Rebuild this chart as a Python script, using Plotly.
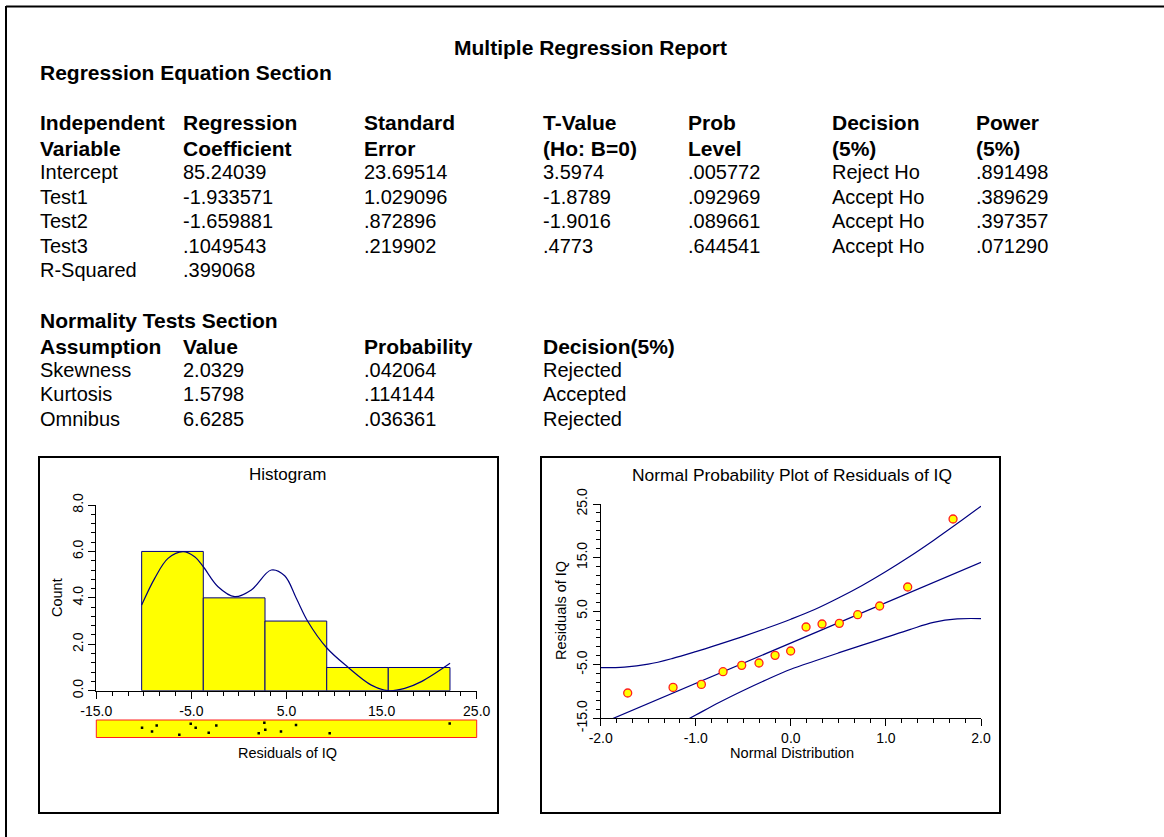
import plotly.graph_objects as go

# ---------------- data ----------------
report_title = "Multiple Regression Report"
section1_title = "Regression Equation Section"
section2_title = "Normality Tests Section"

reg_header_1 = ["Independent", "Regression", "Standard", "T-Value", "Prob", "Decision", "Power"]
reg_header_2 = ["Variable", "Coefficient", "Error", "(Ho: B=0)", "Level", "(5%)", "(5%)"]
variables = ["Intercept", "Test1", "Test2", "Test3"]
coefficients = ["85.24039", "-1.933571", "-1.659881", ".1049543"]
std_errors = ["23.69514", "1.029096", ".872896", ".219902"]
t_values = ["3.5974", "-1.8789", "-1.9016", ".4773"]
prob_levels = [".005772", ".092969", ".089661", ".644541"]
decisions = ["Reject Ho", "Accept Ho", "Accept Ho", "Accept Ho"]
powers = [".891498", ".389629", ".397357", ".071290"]
r_squared_label = "R-Squared"
r_squared = ".399068"

norm_header = ["Assumption", "Value", "Probability", "Decision(5%)"]
assumptions = ["Skewness", "Kurtosis", "Omnibus"]
norm_values = ["2.0329", "1.5798", "6.6285"]
norm_probs = [".042064", ".114144", ".036361"]
norm_decisions = ["Rejected", "Accepted", "Rejected"]

# residuals of IQ (sorted)
residuals = [-10.19, -9.14, -8.65, -6.27, -5.07, -4.55, -3.18, -2.38,
             2.08, 2.67, 2.77, 4.42, 6.00, 9.54, 22.16]
rug_jitter = [0.56, 0.33, 0.71, 0.13, 0.81, 0.56, 0.25, 0.71,
              0.21, 0.88, 0.44, 0.33, 0.73, 0.21, 0.83]

# histogram
bin_edges = [-10.23, -3.75, 2.74, 9.23, 15.70, 22.19]
counts = [6, 4, 3, 1, 1]
kde_x = [-10.23, -8.86, -7.46, -5.88, -4.66, -3.75, -2.20, -0.45, 1.30, 3.40,
         4.81, 6.03, 7.26, 9.22, 11.47, 13.92, 15.67, 17.43, 19.18, 22.20]
kde_y = [3.69, 4.84, 5.70, 5.99, 5.77, 5.34, 4.48, 4.05, 4.34, 5.20,
         4.95, 3.98, 2.97, 1.85, 1.01, 0.24, 0.00, 0.10, 0.39, 1.18]
hist_xticks = [-15, -5, 5, 15, 25]
hist_xticktext = ["-15.0", "-5.0", "5.0", "15.0", "25.0"]
hist_yticks = [0, 2, 4, 6, 8]
hist_yticktext = ["0.0", "2.0", "4.0", "6.0", "8.0"]

# normal probability plot
normal_scores = [-1.716, -1.239, -0.941, -0.713, -0.517, -0.335, -0.166, -0.002,
                 0.160, 0.328, 0.510, 0.703, 0.934, 1.229, 1.706]
npp_residuals = [-10.28, -9.23, -8.67, -6.30, -5.12, -4.68, -3.25, -2.44,
                 2.04, 2.60, 2.72, 4.34, 5.96, 9.51, 22.20]
fit_intercept = -0.95
fit_slope = 7.53
band_x = [-2.0, -1.75, -1.5, -1.25, -1.0, -0.75, -0.5, -0.25, 0.0,
          0.25, 0.5, 0.75, 1.0, 1.25, 1.5, 1.75, 2.0]
band_upper = [-5.55, -5.45, -4.9, -3.85, -2.55, -1.15, 0.3, 1.85, 3.5,
              5.3, 7.45, 9.8, 12.4, 15.2, 18.2, 21.35, 24.6]
band_lower = [-26.6, -22.9, -19.7, -16.8, -14.4, -12.0, -9.8, -7.75, -5.85,
              -4.3, -2.8, -1.35, 0.1, 1.55, 2.9, 3.55, 3.6]
npp_xticks = [-2, -1, 0, 1, 2]
npp_xticktext = ["-2.0", "-1.0", "0.0", "1.0", "2.0"]
npp_yticks = [-15, -5, 5, 15, 25]
npp_yticktext = ["-15.0", "-5.0", "5.0", "15.0", "25.0"]

# ---------------- helpers ----------------
W, H = 1164, 837
FONT = "Liberation Sans, Arial, Helvetica, sans-serif"
NAVY = "#000080"


def pxx(x):
    return x / W


def pxy(y):
    return 1 - y / H


fig = go.Figure()

# ---------------- histogram ----------------
centers = [(a + b) / 2 for a, b in zip(bin_edges[:-1], bin_edges[1:])]
widths = [b - a for a, b in zip(bin_edges[:-1], bin_edges[1:])]
fig.add_trace(go.Bar(x=centers, y=counts, width=widths,
                     marker=dict(color="#FFFF00", line=dict(color=NAVY, width=1)),
                     xaxis="x", yaxis="y", showlegend=False, hoverinfo="skip"))
fig.add_trace(go.Scatter(x=kde_x, y=kde_y, mode="lines",
                         line=dict(color=NAVY, width=1.2, shape="spline", smoothing=1.0),
                         xaxis="x", yaxis="y", showlegend=False, hoverinfo="skip"))

# rug strip
fig.add_trace(go.Scatter(x=residuals, y=rug_jitter, mode="markers",
                         marker=dict(symbol="square", size=2.5, color="black"),
                         xaxis="x3", yaxis="y3", showlegend=False, hoverinfo="skip"))

# ---------------- normal probability plot ----------------
fig.add_trace(go.Scatter(x=band_x, y=band_upper, mode="lines",
                         line=dict(color=NAVY, width=1.2, shape="spline"),
                         xaxis="x2", yaxis="y2", showlegend=False, hoverinfo="skip"))
fig.add_trace(go.Scatter(x=band_x, y=band_lower, mode="lines",
                         line=dict(color=NAVY, width=1.2, shape="spline"),
                         xaxis="x2", yaxis="y2", showlegend=False, hoverinfo="skip"))
fit_x = [npp_xticks[0], npp_xticks[-1]]
fit_y = [fit_intercept + fit_slope * v for v in fit_x]
fig.add_trace(go.Scatter(x=fit_x, y=fit_y, mode="lines",
                         line=dict(color=NAVY, width=1.2),
                         xaxis="x2", yaxis="y2", showlegend=False, hoverinfo="skip"))
fig.add_trace(go.Scatter(x=normal_scores, y=npp_residuals, mode="markers",
                         marker=dict(size=8, color="#FFFF00", line=dict(color="#FF2020", width=1.3)),
                         xaxis="x2", yaxis="y2", showlegend=False, hoverinfo="skip"))

axis_common = dict(showline=True, linecolor="black", linewidth=1, ticks="outside",
                   ticklen=7, tickcolor="black", tickwidth=1, showgrid=False,
                   zeroline=False, tickmode="array", automargin=False,
                   tickfont=dict(family=FONT, size=14, color="black"), fixedrange=True)

fig.update_layout(
    template="none",
    width=W, height=H, autosize=False,
    margin=dict(l=0, r=0, t=0, b=0, pad=0, autoexpand=False),
    paper_bgcolor="white", plot_bgcolor="white",
    font=dict(family=FONT, color="black"),
    showlegend=False,
    xaxis=dict(domain=[pxx(96.3), pxx(476.7)], range=[-15, 25], anchor="y",
               tickvals=hist_xticks, ticktext=hist_xticktext,
               minor=dict(tickmode="linear", tick0=-15, dtick=10 / 6, ticks="outside",
                          ticklen=4, tickcolor="black"),
               **axis_common),
    yaxis=dict(domain=[pxy(690.7), pxy(505)], range=[0, 8], anchor="x",
               tickvals=hist_yticks, ticktext=hist_yticktext, tickangle=-90,
               minor=dict(tickmode="linear", tick0=0, dtick=0.4, ticks="outside",
                          ticklen=4, tickcolor="black"),
               **axis_common),
    xaxis3=dict(domain=[pxx(96.3), pxx(476.7)], range=[-15, 25], anchor="y3",
                visible=False, fixedrange=True, automargin=False),
    yaxis3=dict(domain=[pxy(737.5), pxy(720)], range=[-0.05, 1.05], anchor="x3",
                visible=False, fixedrange=True, automargin=False),
    xaxis2=dict(domain=[pxx(600.7), pxx(981)], range=[-2, 2], anchor="y2",
                tickvals=npp_xticks, ticktext=npp_xticktext,
                minor=dict(tickmode="linear", tick0=-2, dtick=1 / 6, ticks="outside",
                           ticklen=4, tickcolor="black"),
                **axis_common),
    yaxis2=dict(domain=[pxy(718.3), pxy(504)], range=[-15, 25], anchor="x2",
                tickvals=npp_yticks, ticktext=npp_yticktext, tickangle=-90,
                minor=dict(tickmode="linear", tick0=-15, dtick=10 / 6, ticks="outside",
                           ticklen=4, tickcolor="black"),
                **axis_common),
)

# ---------------- frames ----------------
shapes = [
    dict(type="line", xref="paper", yref="paper", x0=pxx(6), x1=1, y0=pxy(6.5), y1=pxy(6.5),
         line=dict(color="black", width=2)),
    dict(type="line", xref="paper", yref="paper", x0=pxx(6), x1=pxx(6), y0=pxy(6), y1=0,
         line=dict(color="black", width=2)),
    dict(type="rect", xref="paper", yref="paper", x0=pxx(39), x1=pxx(498), y0=pxy(457), y1=pxy(813),
         line=dict(color="black", width=2)),
    dict(type="rect", xref="paper", yref="paper", x0=pxx(541), x1=pxx(1000), y0=pxy(457), y1=pxy(813),
         line=dict(color="black", width=2)),
    dict(type="rect", xref="x3 domain", yref="y3 domain", x0=0, x1=1, y0=0, y1=1,
         fillcolor="#FFFF00", line=dict(color="#FF2020", width=1), layer="below"),
]
fig.update_layout(shapes=shapes)

# ---------------- text ----------------
annotations = []


def text(x, y, s, size=20, bold=False, anchor="left", angle=0):
    annotations.append(dict(
        x=pxx(x), y=pxy(y), xref="paper", yref="paper", showarrow=False,
        text=("<b>%s</b>" % s) if bold else s, xanchor=anchor, yanchor="middle",
        textangle=angle, font=dict(family=FONT, size=size, color="black")))


text(590, 48, report_title, size=21, bold=True, anchor="center")
text(38, 73, section1_title, size=21, bold=True)

col_x = [38, 181, 362, 541, 686, 830, 974]
row_y = [123, 148, 172, 197, 221, 246, 270]
for cx, h1, h2 in zip(col_x, reg_header_1, reg_header_2):
    text(cx, row_y[0], h1, size=21, bold=True)
    text(cx, row_y[1], h2, size=21, bold=True)
columns = [variables, coefficients, std_errors, t_values, prob_levels, decisions, powers]
for cx, col in zip(col_x, columns):
    for ry, val in zip(row_y[2:], col):
        text(cx, ry, val)
text(col_x[0], row_y[6], r_squared_label)
text(col_x[1], row_y[6], r_squared)

text(38, 321, section2_title, size=21, bold=True)
norm_rows = [346, 370, 394, 419]
for cx, h in zip(col_x[:4], norm_header):
    text(cx, norm_rows[0], h, size=21, bold=True)
for cx, col in zip(col_x[:4], [assumptions, norm_values, norm_probs, norm_decisions]):
    for ry, val in zip(norm_rows[1:], col):
        text(cx, ry, val)

# chart texts
text(287, 475, "Histogram", size=17, anchor="center")
text(287, 753, "Residuals of IQ", size=14.5, anchor="center")
text(57, 598, "Count", size=14.5, anchor="center", angle=-90)
text(792, 475, "Normal Probability Plot of Residuals of IQ", size=17.4, anchor="center")
text(792, 753, "Normal Distribution", size=14.6, anchor="center")
text(561, 611, "Residuals of IQ", size=14.5, anchor="center", angle=-90)

fig.update_layout(annotations=annotations)

fig.write_html("out.html",
               config={"displayModeBar": False, "staticPlot": True},
               post_script="document.body.style.margin='0';document.body.style.padding='0';")
